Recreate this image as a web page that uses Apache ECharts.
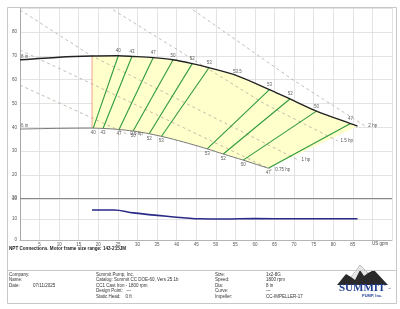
<!DOCTYPE html>
<html><head><meta charset="utf-8">
<script src="https://cdn.jsdelivr.net/npm/echarts@6/dist/echarts.min.js"></script>
<style>html,body{margin:0;padding:0;background:#fff}#c{width:400px;height:309px}</style>
</head><body><div id="c"></div>
<script>
// ---- data (flow US gpm, head ft) ----
const topCurve = [[0,68.3],[10,69.4],[18.4,69.9],[25,70],[29,69.7],[34,69.2],[39,68.3],[44,66.7],[48,65.1],[55.5,61.6],[64,55.6],[70,51.1],[76,46.6],[84.4,41.6],[86.2,40.5]];
const bottomCurve = [[0,39.3],[10,39.6],[18.4,39.7],[22,39.5],[26,39],[30,38.2],[34,37],[38,35.5],[43,33.3],[48,30.9],[52,28.8],[57,26.3],[60,24.7],[63.4,22.9]];
const curveNames = ['8 in','6 in'];
const regionStartFlow = 18.4;
// iso-efficiency lines: [flowLow, headLow, flowHigh, headHigh, eff]
const effLines = [
  [18.7,39.7,25.1,70.0,'40'],
  [21.2,39.55,28.6,69.8,'43'],
  [25.3,39.1,34.0,69.2,'47'],
  [28.9,38.45,39.1,68.3,'50'],
  [33.0,37.3,44.0,66.7,'52'],
  [36.1,36.2,48.3,65.1,'53'],
  [47.8,31.0,63.7,55.8,'53'],
  [51.9,28.85,69.0,52.0,'52'],
  [57.0,26.3,75.7,46.8,'50'],
  [63.4,22.9,84.4,41.6,'47']
];
const bepPoint = [55.5,61.6,'53.5'];
// power lines
const hpNames = ['0.5 hp','0.75 hp','1 hp','1.5 hp','2 hp'];
const hpLines = [
  [[0,57.7],[27.4,37.2]],
  [[0,72.4],[18.4,58.2],[64.4,22.1]],
  [[0,89.2],[17.9,70.3],[71.1,26.3]],
  [[23.8,89.2],[62.1,50.2],[81.1,34.3]],
  [[44.2,89.2],[69.8,59.8],[88.2,40.5]]
];
const npshFlow = [18.4,24,29,37.5,46,52,60,70,86.2];
const npshVal  = [14.3,14.3,12.9,11.3,10.1,10.0,10.2,10.1,10.1];
const headTicks = {min:10,max:90,interval:10};
const npshTicks = {min:0,max:20,interval:10};
const flowTicks = {min:0,max:95,interval:5};

const FONT = 'Liberation Sans';
const chart = echarts.init(document.getElementById('c'), null, {renderer:'canvas'});

const series = [];
// yellow operating region
const poly = topCurve.filter(p=>p[0]>=regionStartFlow).concat(bottomCurve.filter(p=>p[0]>=regionStartFlow).slice().reverse());
series.push({
  type:'custom', xAxisIndex:0, yAxisIndex:0, silent:true, z:1,
  data:[0],
  renderItem:function(params, api){
    const pts = poly.map(p=>api.coord(p));
    return {type:'polygon', shape:{points:pts}, style:{fill:'#ffffcc', stroke:null}};
  }
});
// left boundary of region
series.push({type:'line', xAxisIndex:0, yAxisIndex:0, z:3, symbol:'none', silent:true,
  data:[[regionStartFlow,69.9],[regionStartFlow,39.7]], lineStyle:{color:'#f08a70', width:0.8}});
// hp lines
hpLines.forEach((ln,i)=>{
  series.push({type:'line', xAxisIndex:0, yAxisIndex:0, z:2, symbol:'none', silent:true, data:ln,
    lineStyle:{color:'#b5aba0', width:0.8, type:[3,3]},
    endLabel:{show:true, formatter:hpNames[i], fontSize:4.5, fontFamily:FONT, color:'#555', distance:3}});
});
// efficiency lines
effLines.forEach(e=>{
  series.push({type:'line', xAxisIndex:0, yAxisIndex:0, z:4, symbol:'none', silent:true,
    data:[[e[0],e[1]],[e[2],e[3]]], lineStyle:{color:'#2f9a3e', width:1.1}});
});
// curves
series.push({type:'line', xAxisIndex:0, yAxisIndex:0, z:5, symbol:'none', smooth:0.3, data:topCurve, lineStyle:{color:'#222', width:1.4}});
series.push({type:'line', xAxisIndex:0, yAxisIndex:0, z:5, symbol:'none', smooth:0.3, data:bottomCurve, lineStyle:{color:'#777', width:1}});
// labels for efficiency ends
const lblTop = effLines.map(e=>({value:[e[2],e[3]], label:{formatter:e[4]}})).concat([{value:[bepPoint[0],bepPoint[1]],label:{formatter:bepPoint[2]}}]);
const lblBot = effLines.map(e=>({value:[e[0],e[1]], label:{formatter:e[4]}}));
series.push({type:'scatter', xAxisIndex:0, yAxisIndex:0, z:6, symbolSize:0, silent:true, data:lblTop,
  label:{show:true, position:'top', distance:2, fontSize:4.5, fontFamily:FONT, color:'#333'}});
series.push({type:'scatter', xAxisIndex:0, yAxisIndex:0, z:6, symbolSize:0, silent:true, data:lblBot,
  label:{show:true, position:'bottom', distance:2, fontSize:4.5, fontFamily:FONT, color:'#333'}});
series.push({type:'scatter', xAxisIndex:0, yAxisIndex:0, z:6, symbolSize:0, silent:true,
  data:[{value:topCurve[0],label:{formatter:curveNames[0]}},{value:bottomCurve[0],label:{formatter:curveNames[1]}}],
  label:{show:true, position:'right', offset:[0,-3], distance:1, fontSize:4.5, fontFamily:FONT, color:'#333'}});
// NPSH
series.push({type:'line', xAxisIndex:1, yAxisIndex:1, z:5, symbol:'none', smooth:0.4,
  data:npshFlow.map((f,i)=>[f,npshVal[i]]), lineStyle:{color:'#2a2a86', width:1.6}});

const axLbl = {fontSize:4.5, fontFamily:FONT, color:'#555'};
const splitL = {show:true, lineStyle:{color:'#dcdcdc', width:0.8}};
chart.setOption({
  animation:false,
  textStyle:{fontFamily:FONT},
  grid:[
    {left:20, top:8, width:372, height:191, show:false, containLabel:false, outerBoundsMode:'none'},
    {left:20, top:198, width:372, height:42, show:false, containLabel:false, outerBoundsMode:'none'}
  ],
  xAxis:[
    {gridIndex:0, type:'value', min:flowTicks.min, max:flowTicks.max, interval:flowTicks.interval,
      axisLabel:{show:false}, axisTick:{show:false}, axisLine:{show:false}, splitLine:splitL},
    {gridIndex:1, type:'value', min:flowTicks.min, max:flowTicks.max, interval:flowTicks.interval,
      axisLabel:Object.assign({margin:2, formatter:v=>(v===0||v>=90)?'':String(v)},axLbl),
      axisTick:{show:false}, axisLine:{show:true, onZero:false, lineStyle:{color:'#aaa', width:0.8}}, splitLine:splitL,
      name:'US gpm', nameLocation:'end', nameGap:-20,
      nameTextStyle:{fontSize:4.5, fontFamily:FONT, color:'#444', verticalAlign:'top', padding:[1,0,0,0]}}
  ],
  yAxis:[
    {gridIndex:0, type:'value', min:headTicks.min, max:headTicks.max, interval:headTicks.interval,
      axisLabel:Object.assign({margin:3, formatter:v=>v>=90?'':String(v)},axLbl), axisTick:{show:false},
      axisLine:{show:true, lineStyle:{color:'#999', width:0.8}}, splitLine:splitL,
      name:'Head - ft', nameLocation:'middle', nameGap:8, nameRotate:90,
      nameTextStyle:{fontSize:4.5, fontFamily:FONT, color:'#333', fontWeight:'bold'}},
    {gridIndex:1, type:'value', min:npshTicks.min, max:npshTicks.max, interval:npshTicks.interval,
      axisLabel:Object.assign({margin:3},axLbl), axisTick:{show:false},
      axisLine:{show:true, lineStyle:{color:'#999', width:0.8}}, splitLine:splitL,
      name:'NPSHr - ft', nameLocation:'middle', nameGap:8, nameRotate:90,
      nameTextStyle:{fontSize:4.5, fontFamily:FONT, color:'#333', fontWeight:'bold'}}
  ],
  series:series,
  graphic:[
    {type:'rect', shape:{x:7.5,y:7.5,width:389,height:296}, style:{fill:null, stroke:'#c8c8c8', lineWidth:1}, z:100},
    {type:'line', shape:{x1:20,y1:198.5,x2:392,y2:198.5}, style:{stroke:'#888', lineWidth:1}, z:100},
    {type:'line', shape:{x1:7.5,y1:270.5,x2:396.5,y2:270.5}, style:{stroke:'#c8c8c8', lineWidth:1}, z:100},
    {type:'text', left:9, top:246, style:{text:'NPT Connections. Motor frame size range: 143-215JM', font:'bold 4.6px "Liberation Sans"', fill:'#222'}},
    {type:'text', left:9, top:272, style:{text:'Company:\nName:\nDate:', font:'4.5px "Liberation Sans"', fill:'#333', lineHeight:5.4}},
    {type:'text', left:33, top:282.8, style:{text:'07/11/2025', font:'4.5px "Liberation Sans"', fill:'#333'}},
    {type:'text', left:96, top:272, style:{text:'Summit Pump, Inc.\nCatalog: Summit CC DOE-60, Vers 25.1b\nCC1 Cast Iron - 1800 rpm\nDesign Point:   ---\nStatic Head:    0 ft', font:'4.5px "Liberation Sans"', fill:'#333', lineHeight:5.4}},
    {type:'text', left:215, top:272, style:{text:'Size:\nSpeed:\nDia:\nCurve:\nImpeller:', font:'4.5px "Liberation Sans"', fill:'#333', lineHeight:5.4}},
    {type:'text', left:266, top:272, style:{text:'1x2-8G\n1800 rpm\n8 in\n---\nCC-IMPELLER-17', font:'4.5px "Liberation Sans"', fill:'#333', lineHeight:5.4}},
    {type:'polygon', shape:{points:[[337,285],[346,274],[351,277],[360,265],[368,273],[374,270],[388,285]]}, style:{fill:'#2a2a2a'}},
    {type:'polygon', shape:{points:[[351,277],[355,280],[360,270],[364,276],[368,273],[360,265]]}, style:{fill:'#e6e6e6'}},
    {type:'text', left:339, top:283, style:{text:'SUMMIT', font:'bold 11px "Liberation Serif"', fill:'#1f3f93'}},
    {type:'text', left:388, top:288, style:{text:'™', font:'3px "Liberation Sans"', fill:'#1f3f93'}},
    {type:'text', left:362, top:294, style:{text:'PUMP, Inc.', font:'bold 4px "Liberation Sans"', fill:'#1f3f93'}}
  ]
});
</script></body></html>
